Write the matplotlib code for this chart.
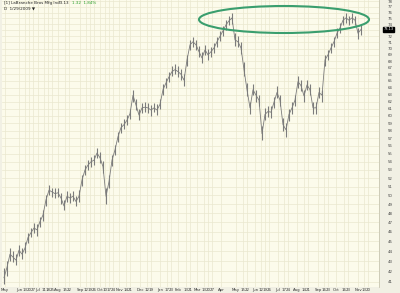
import matplotlib
matplotlib.use("Agg")
import matplotlib.pyplot as plt
import matplotlib.transforms as mtransforms
from matplotlib.patches import Ellipse
import numpy as np

# Price bars, one every ~3 trading days
closes = [41.4, 42.4, 43.7, 43.4, 43.1, 44.1, 43.7, 44.3, 45.4, 45.9,
          46.4, 46.2, 47.1, 47.8, 49.5, 50.6, 50.4, 50.2, 50.3, 49.7,
          48.8, 49.9, 49.7, 49.9, 49.3, 49.9, 51.8, 53.0, 53.6, 54.0,
          54.2, 55.1, 54.5, 53.4, 49.9, 51.6, 54.2, 55.5, 57.2, 58.4,
          58.8, 59.4, 60.3, 62.9, 61.5, 60.1, 61.1, 61.2, 61.1, 60.8,
          61.1, 60.8, 61.6, 63.7, 64.7, 65.6, 66.4, 66.7, 66.4, 66.0,
          65.1, 68.2, 70.6, 71.1, 70.6, 69.5, 68.5, 69.8, 69.0, 69.5,
          70.1, 71.1, 72.0, 72.9, 73.9, 74.6, 75.1, 71.4, 71.1, 70.1,
          66.7, 63.7, 61.1, 63.7, 62.9, 62.2, 57.6, 60.2, 60.6, 60.5,
          61.9, 63.3, 62.2, 58.8, 58.1, 60.2, 61.1, 62.2, 64.9, 64.3,
          62.8, 64.4, 63.7, 61.1, 61.1, 63.3, 62.9, 68.2, 69.0, 70.1,
          71.1, 72.5, 73.4, 74.7, 75.1, 74.7, 75.1, 74.7, 72.5, 73.13]
highs = [42.3, 43.0, 44.3, 44.0, 43.7, 44.6, 44.3, 44.9, 45.9, 46.4,
         46.9, 46.8, 47.6, 48.4, 50.1, 51.2, 50.9, 50.8, 50.9, 50.3,
         49.5, 50.5, 50.3, 50.5, 49.9, 50.6, 52.4, 53.6, 54.2, 54.6,
         54.9, 55.7, 55.2, 54.1, 50.8, 52.4, 54.9, 56.1, 57.8, 59.0,
         59.5, 60.1, 61.0, 63.6, 62.3, 60.9, 61.8, 61.9, 61.8, 61.5,
         61.8, 61.6, 62.3, 64.5, 65.5, 66.4, 67.2, 67.5, 67.2, 66.8,
         66.0, 69.0, 71.4, 71.9, 71.4, 70.4, 69.4, 70.6, 69.9, 70.3,
         70.9, 71.9, 72.8, 73.7, 74.7, 75.4, 76.0, 72.5, 72.0, 71.0,
         67.8, 64.7, 62.0, 64.5, 63.7, 63.0, 58.6, 61.1, 61.4, 61.3,
         62.7, 64.2, 63.0, 59.7, 59.0, 61.0, 61.9, 63.0, 65.7, 65.1,
         63.6, 65.2, 64.5, 62.0, 61.9, 64.1, 63.7, 69.0, 69.8, 70.9,
         71.9, 73.3, 74.2, 75.5, 75.9, 75.5, 75.9, 75.5, 73.4, 73.8]
lows = [40.8, 41.6, 43.0, 42.9, 42.6, 43.5, 43.2, 43.8, 44.8, 45.4,
        45.9, 45.6, 46.5, 47.2, 48.8, 50.0, 49.8, 49.7, 49.8, 49.0,
        48.3, 49.3, 49.1, 49.4, 48.8, 49.3, 51.1, 52.4, 53.0, 53.4,
        53.6, 54.5, 53.9, 52.6, 49.0, 50.9, 53.5, 54.8, 56.5, 57.7,
        58.2, 58.8, 59.6, 62.0, 60.8, 59.4, 60.4, 60.5, 60.4, 60.0,
        60.5, 60.1, 60.9, 63.0, 64.0, 64.9, 65.7, 66.0, 65.6, 65.2,
        64.2, 67.3, 69.8, 70.3, 69.8, 68.7, 67.7, 69.0, 68.2, 68.7,
        69.3, 70.3, 71.2, 72.1, 73.0, 73.8, 74.0, 70.4, 70.2, 69.2,
        65.7, 62.8, 60.2, 62.9, 62.0, 61.3, 56.8, 59.4, 59.8, 59.7,
        61.1, 62.5, 61.3, 58.0, 57.2, 59.3, 60.3, 61.4, 64.0, 63.5,
        62.0, 63.6, 62.9, 60.3, 60.3, 62.5, 62.0, 67.3, 68.2, 69.3,
        70.3, 71.7, 72.6, 73.9, 74.3, 73.8, 74.3, 73.9, 71.6, 72.2]

date_labels = ["May", "Jun", "13", "20", "27", "Jul", "11", "18", "25", "Aug",
               "15", "22", "Sep", "12", "19", "26", "Oct", "10", "17", "24",
               "Nov", "14", "21", "Dec", "12", "19", "Jan", "17", "23", "Feb",
               "13", "21", "Mar", "13", "20", "27", "Apr", "May", "15", "22",
               "Jun", "12", "19", "26", "Jul", "17", "24", "Aug", "14", "21",
               "Sep", "16", "23", "Oct", "16", "23", "Nov", "13", "20"]
date_px = [5, 19, 25, 29, 33, 38, 44, 48, 52, 58,
           65, 69, 80, 86, 90, 94, 100, 105, 109, 113,
           119, 126, 130, 140, 147, 151, 160, 167, 171, 178,
           186, 190, 197, 204, 208, 212, 221, 236, 243, 247,
           255, 261, 265, 269, 278, 284, 288, 297, 304, 308,
           318, 324, 328, 336, 344, 348, 358, 364, 368]

title = "[1] LaBranche Bros Mfg Inc"

W, H = 400, 293
fig = plt.figure(figsize=(W / 100, H / 100), dpi=100)
fig.patch.set_facecolor("#f1f0e4")
ax = fig.add_axes([2 / W, 6 / H, 377 / W, 287 / H])
ax.set_facecolor("#fcfbeb")

x = np.arange(len(closes))
ax.vlines(x, lows, highs, color="#7c7c7c", lw=0.8)
ax.plot(x, closes, color="#7c7c7c", lw=0.6)

ax.set_yscale("log")
ax.set_ylim(40.53, 78.24)
ax.set_xlim(-2 / 3, 125)
ax.minorticks_off()
yt = np.arange(41, 79)
ax.set_yticks(yt)
# the highlighted last price takes the place of its neighbouring label
ax.set_yticklabels(["" if abs(v - closes[-1]) < 0.6 else str(v) for v in yt])
ax.yaxis.tick_right()
ax.tick_params(axis="y", length=0, labelsize=2.8, pad=6, colors="#444444")

ax.set_xticks([(p - 4) / 3 for p in date_px])
ax.set_xticklabels(date_labels)
ax.tick_params(axis="x", length=0, labelsize=2.8, pad=1, colors="#333333")

ax.grid(True, color="#eae8cf", lw=0.5)
ax.set_axisbelow(True)
for s in ["top", "left", "bottom"]:
    ax.spines[s].set_visible(False)
ax.spines["right"].set_color("#c8c6b0")
ax.spines["right"].set_linewidth(0.6)

# last price marker on the price scale
trans = mtransforms.blended_transform_factory(ax.transAxes, ax.transData)
ax.text(1.012, closes[-1], "%.2f" % closes[-1], transform=trans, fontsize=2.6,
        color="white", va="center", ha="left",
        bbox=dict(boxstyle="square,pad=0.2", fc="black", ec="black"))

# header text
fig.text(4 / W, 1 - 3 / H, title, fontsize=3, va="center", ha="left", color="#222222")
fig.text(58 / W, 1 - 3 / H, "73.13", fontsize=3, va="center", ha="left", color="#222222")
fig.text(72 / W, 1 - 3 / H, "1.32  1.84%", fontsize=3, va="center", ha="left", color="#2ca02c")
fig.text(4 / W, 1 - 9 / H, "D  1/29/2009 \u25bc", fontsize=3, va="center", ha="left", color="#222222")

# green ellipse around the double top
ell = Ellipse((284 / W, 1 - 19.5 / H), 170 / W, 27 / H, transform=fig.transFigure,
              fill=False, ec="#3a9e6e", lw=1.5)
fig.patches.append(ell)

plt.savefig("out.png", dpi=100, facecolor=fig.get_facecolor())
